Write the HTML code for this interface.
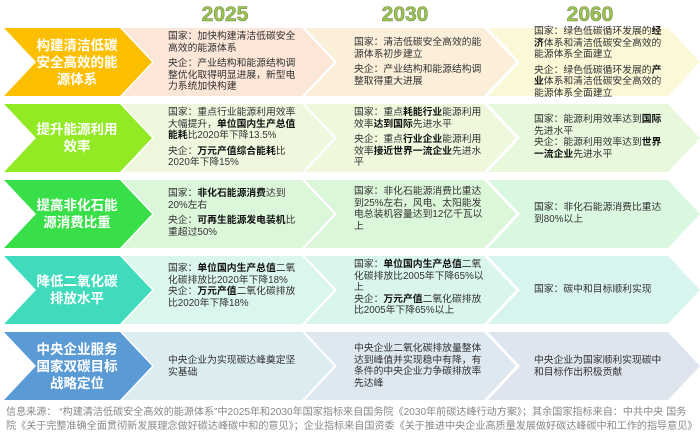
<!DOCTYPE html>
<html><head><meta charset="utf-8"><style>
body{margin:0;width:700px;height:434px;background:#fff;overflow:hidden;position:relative;font-family:"Liberation Sans","Noto Sans CJK SC",sans-serif}
svg{position:absolute;left:0;top:0}
.t{position:absolute;font-size:9.8px;line-height:11.5px;color:#333;width:130px}
.t p{margin:0 0 4px 0}
.t b{color:#111}
.l{position:absolute;color:#fff;font-weight:bold;font-size:13.5px;line-height:17px;text-align:center;width:110px;left:22px;display:flex;align-items:center;justify-content:center;height:68px}
.y{position:absolute;top:3px;font-size:21px;font-weight:bold;color:#9bc646;-webkit-text-stroke:0.6px #7a8a6a;width:100px;text-align:center}
.f{position:absolute;left:6px;font-size:10.1px;color:#888;white-space:nowrap}
</style></head><body>
<svg width="700" height="434">
<polygon points="4,28 120,28 152,62 120,96 4,96 36,62" fill="#fcbf00"/>
<polygon points="122,28 302,28 334,62 302,96 122,96 154,62" fill="#fbe6d7"/>
<polygon points="305,28 484,28 516,62 484,96 305,96 337,62" fill="#fbefd9"/>
<polygon points="488,28 668,28 700,62 668,96 488,96 520,62" fill="#fbf8d8"/>
<polygon points="4,104 120,104 152,138 120,172 4,172 36,138" fill="#92ea24"/>
<polygon points="122,104 302,104 334,138 302,172 122,172 154,138" fill="#eff8de"/>
<polygon points="305,104 484,104 516,138 484,172 305,172 337,138" fill="#eff8dd"/>
<polygon points="488,104 668,104 700,138 668,172 488,172 520,138" fill="#e8f8dc"/>
<polygon points="4,180 120,180 152,214 120,248 4,248 36,214" fill="#38df48"/>
<polygon points="122,180 302,180 334,214 302,248 122,248 154,214" fill="#dcf6da"/>
<polygon points="305,180 484,180 516,214 484,248 305,248 337,214" fill="#dcf6da"/>
<polygon points="488,180 668,180 700,214 668,248 488,248 520,214" fill="#daf7e0"/>
<polygon points="4,256 120,256 152,290 120,324 4,324 36,290" fill="#40dbbc"/>
<polygon points="122,256 302,256 334,290 302,324 122,324 154,290" fill="#dbf6eb"/>
<polygon points="305,256 484,256 516,290 484,324 305,324 337,290" fill="#d9f5ee"/>
<polygon points="488,256 668,256 700,290 668,324 488,324 520,290" fill="#d8f4ef"/>
<polygon points="4,332 120,332 152,366 120,400 4,400 36,366" fill="#5b9bd5"/>
<polygon points="122,332 302,332 334,366 302,400 122,400 154,366" fill="#dcedf1"/>
<polygon points="305,332 484,332 516,366 484,400 305,400 337,366" fill="#dde8f0"/>
<polygon points="488,332 668,332 700,366 668,400 488,400 520,366" fill="#dfe5ef"/>
</svg>
<div class="y" style="left:175px">2025</div>
<div class="y" style="left:355px">2030</div>
<div class="y" style="left:540px">2060</div>

<div class="l" style="top:28px">构建清洁低碳<br>安全高效的能<br>源体系</div>
<div class="l" style="top:104px">提升能源利用<br>效率</div>
<div class="l" style="top:180px">提高非化石能<br>源消费比重</div>
<div class="l" style="top:256px">降低二氧化碳<br>排放水平</div>
<div class="l" style="top:332px">中央企业服务<br>国家双碳目标<br>战略定位</div>

<div class="t" style="left:168px;top:31px"><p>国家：加快构建清洁低碳安全高效的能源体系</p><p>央企：产业结构和能源结构调整优化取得明显进展，新型电力系统加快构建</p></div>
<div class="t" style="left:354px;top:37px"><p>国家：清洁低碳安全高效的能源体系初步建立</p><p>央企：产业结构和能源结构调整取得重大进展</p></div>
<div class="t" style="left:534px;top:26px"><p>国家：绿色低碳循环发展的<b>经济</b>体系和清洁低碳安全高效的能源体系全面建立</p><p>央企：绿色低碳循环发展的<b>产业</b>体系和清洁低碳安全高效的能源体系全面建立</p></div>

<div class="t" style="left:168px;top:107px"><p>国家：重点行业能源利用效率大幅提升，<b>单位国内生产总值能耗</b>比2020年下降13.5%</p><p>央企：<b>万元产值综合能耗</b>比2020年下降15%</p></div>
<div class="t" style="left:354px;top:107px"><p>国家：重点<b>耗能行业</b>能源利用效率<b>达到国际</b>先进水平</p><p>央企：重点<b>行业企业</b>能源利用效率<b>接近世界一流企业</b>先进水平</p></div>
<div class="t" style="left:534px;top:114px"><p style="margin:0">国家：能源利用效率达到<b>国际</b>先进水平</p><p>央企：能源利用效率达到<b>世界一流企业</b>先进水平</p></div>

<div class="t" style="left:168px;top:188px"><p>国家：<b>非化石能源消费</b>达到20%左右</p><p>央企：<b>可再生能源发电装机</b>比重超过50%</p></div>
<div class="t" style="left:354px;top:186px"><p>国家：非化石能源消费比重达到25%左右，风电、太阳能发电总装机容量达到12亿千瓦以上</p></div>
<div class="t" style="left:534px;top:202px"><p>国家：非化石能源消费比重达到80%以上</p></div>

<div class="t" style="left:168px;top:263px"><p style="margin:0">国家：<b>单位国内生产总值</b>二氧化碳排放比2020年下降18%</p><p>央企：<b>万元产值</b>二氧化碳排放比2020年下降18%</p></div>
<div class="t" style="left:354px;top:259px"><p style="margin:0">国家：<b>单位国内生产总值</b>二氧化碳排放比2005年下降65%以上</p><p>央企：<b>万元产值</b>二氧化碳排放比2005年下降65%以上</p></div>
<div class="t" style="left:534px;top:284px"><p>国家：碳中和目标顺利实现</p></div>

<div class="t" style="left:168px;top:355px"><p>中央企业为实现碳达峰奠定坚实基础</p></div>
<div class="t" style="left:354px;top:343px"><p>中央企业二氧化碳排放量整体达到峰值并实现稳中有降，有条件的中央企业力争碳排放率先达峰</p></div>
<div class="t" style="left:534px;top:355px"><p>中央企业为国家顺利实现碳中和目标作出积极贡献</p></div>

<div class="f" style="top:403px">信息来源：&nbsp;“构建清洁低碳安全高效的能源体系”中2025年和2030年国家指标来自国务院《2030年前碳达峰行动方案》；其余国家指标来自：中共中央 国务</div>
<div class="f" style="top:417px">院《关于完整准确全面贯彻新发展理念做好碳达峰碳中和的意见》；企业指标来自国资委《关于推进中央企业高质量发展做好碳达峰碳中和工作的指导意见》</div>
</body></html>
